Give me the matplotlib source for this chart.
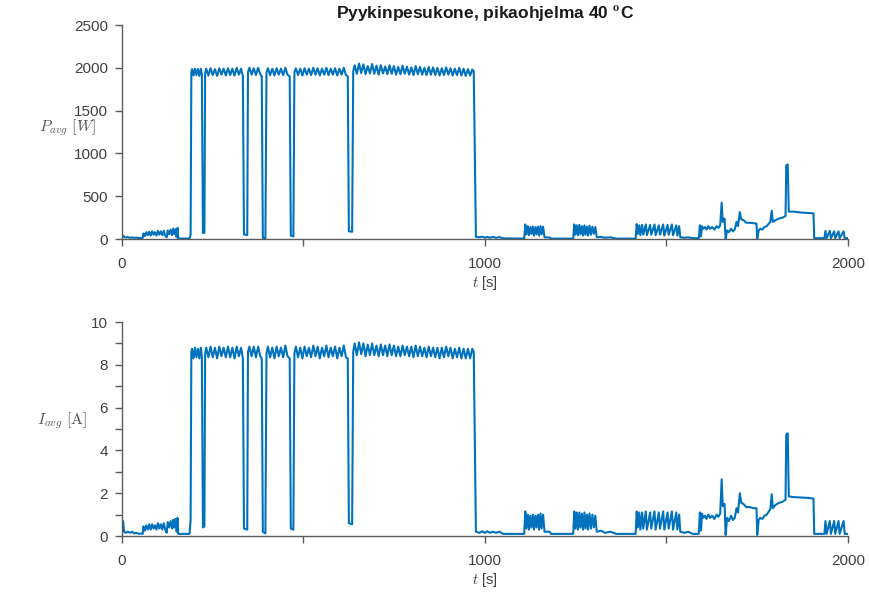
import matplotlib
matplotlib.use('Agg')
import matplotlib.pyplot as plt
from matplotlib.ticker import FixedLocator, MultipleLocator

plt.rcParams['font.family'] = ['Liberation Sans', 'DejaVu Sans']
plt.rcParams['mathtext.fontset'] = 'cm'

TITLE = r'Pyykinpesukone, pikaohjelma 40 $^{\mathbf{o}}$C'
LINE_COLOR = '#0072BD'

# Startup / filling, 0 - 190 s
t_start = [0, 3, 6, 10, 16, 22, 28, 34, 40, 46,
           52, 57, 59, 63, 67, 71, 75, 79, 83, 87,
           91, 95, 99, 103, 107, 111, 115, 119, 123, 126,
           130, 134, 138, 141, 144, 147, 150, 153, 155, 170,
           186, 189]
p_start = [20, 40, 25, 18, 22, 15, 18, 14, 16, 12,
           14, 12, 65, 35, 80, 45, 85, 40, 90, 50,
           80, 40, 95, 50, 90, 45, 95, 40, 20, 100,
           55, 110, 45, 120, 60, 115, 25, 130, 5, 5,
           5, 50]
i_start = [0.1, 0.7, 0.2, 0.15, 0.2, 0.15, 0.2, 0.12, 0.15, 0.1,
           0.12, 0.1, 0.45, 0.25, 0.5, 0.3, 0.55, 0.3, 0.55, 0.35,
           0.5, 0.3, 0.6, 0.35, 0.55, 0.3, 0.6, 0.3, 0.15, 0.65,
           0.4, 0.7, 0.35, 0.75, 0.4, 0.8, 0.2, 0.85, 0.1, 0.1,
           0.1, 0.75]

# Heating, 190 - 640 s
t_heat = [191, 193, 197, 201, 205, 209, 213, 217, 220,
          223, 227, 229,
          232, 238, 244, 250, 256, 262, 268, 274, 280, 286,
          292, 298, 304, 310, 316, 322, 328, 333,
          336, 345, 347,
          351, 357, 363, 369, 375, 381, 385,
          388, 395, 398,
          402, 408, 414, 420, 426, 432, 438, 444, 450, 456,
          462,
          465, 472, 475,
          479, 485, 491, 497, 503, 509, 515, 521, 527, 533,
          539, 545, 551, 557, 563, 569, 575, 581, 587, 593,
          599, 605, 611, 617, 622,
          625, 634, 637]
p_heat = [1950, 1985, 1910, 1990, 1915, 1985, 1905, 1990, 1930,
          70, 75, 1940,
          1990, 1910, 1995, 1915, 1985, 1905, 1995, 1920, 1990, 1910,
          1995, 1915, 1990, 1910, 2000, 1920, 1990, 1900,
          55, 45, 1950,
          2000, 1920, 1995, 1915, 2000, 1925, 1900,
          15, 5, 1940,
          1995, 1915, 1990, 1910, 1995, 1920, 1990, 1915, 2000, 1920,
          1900,
          40, 30, 1945,
          1995, 1915, 1990, 1910, 1995, 1920, 1990, 1915, 2000, 1920,
          1995, 1910, 1990, 1920, 2000, 1915, 1990, 1920, 1995, 1910,
          1990, 1920, 2000, 1915, 1900,
          90, 85, 1960]
i_heat = [8.6, 8.75, 8.3, 8.8, 8.35, 8.75, 8.3, 8.8, 8.4,
          0.4, 0.45, 8.5,
          8.8, 8.35, 8.85, 8.35, 8.8, 8.3, 8.85, 8.4, 8.8, 8.35,
          8.85, 8.35, 8.8, 8.3, 8.85, 8.4, 8.8, 8.3,
          0.35, 0.3, 8.6,
          8.85, 8.4, 8.85, 8.35, 8.85, 8.4, 8.3,
          0.2, 0.12, 8.5,
          8.85, 8.35, 8.8, 8.3, 8.85, 8.4, 8.8, 8.35, 8.9, 8.4,
          8.3,
          0.35, 0.3, 8.55,
          8.85, 8.35, 8.8, 8.3, 8.85, 8.4, 8.8, 8.35, 8.9, 8.4,
          8.85, 8.3, 8.8, 8.4, 8.9, 8.35, 8.8, 8.4, 8.85, 8.3,
          8.8, 8.4, 8.9, 8.35, 8.3,
          0.6, 0.55, 8.6]

# Long heating block, 640 - 975 s
t_long = [641, 647, 653, 659, 665, 671, 677, 683, 689, 695,
          701, 707, 713, 719, 725, 731, 737, 743, 749, 755,
          761, 767, 773, 779, 785, 791, 797, 803, 809, 815,
          821, 827, 833, 839, 845, 851, 857, 863, 869, 875,
          881, 887, 893, 899, 905, 911, 917, 923, 929, 935,
          941, 947, 953, 959, 965, 969, 975]
p_long = [2030, 1930, 2050, 1940, 2040, 1925, 2020, 1935, 2045, 1930,
          2025, 1920, 2030, 1935, 2015, 1925, 2030, 1930, 2020, 1920,
          2010, 1925, 2025, 1930, 2015, 1920, 2005, 1915, 2020, 1925,
          2010, 1920, 2000, 1915, 2010, 1920, 2005, 1915, 2000, 1910,
          1995, 1915, 2005, 1920, 1995, 1910, 1990, 1915, 2000, 1910,
          1990, 1905, 1985, 1910, 1980, 1960, 25]
i_long = [9.0, 8.45, 9.05, 8.5, 9.0, 8.4, 8.95, 8.45, 9.0, 8.45,
          8.9, 8.4, 8.95, 8.45, 8.9, 8.4, 8.95, 8.45, 8.9, 8.4,
          8.85, 8.4, 8.9, 8.45, 8.85, 8.4, 8.85, 8.35, 8.9, 8.4,
          8.85, 8.4, 8.8, 8.35, 8.85, 8.4, 8.8, 8.35, 8.8, 8.3,
          8.8, 8.35, 8.85, 8.4, 8.8, 8.3, 8.75, 8.35, 8.8, 8.3,
          8.75, 8.3, 8.75, 8.3, 8.75, 8.6, 0.2]

# Washing / rinsing bursts, 975 - 1590 s
t_rinse = [985, 992, 1000, 1006, 1014, 1022, 1030, 1040, 1050, 1108,
           1111, 1114, 1118, 1121, 1125, 1128, 1132, 1135, 1139, 1142,
           1146, 1149, 1153, 1156, 1160, 1164, 1178, 1182, 1243,
           1246, 1249, 1253, 1256, 1260, 1263, 1267, 1270, 1274, 1277,
           1281, 1284, 1288, 1292, 1296, 1300, 1304, 1308, 1320, 1330,
           1345, 1362, 1415,
           1418, 1421, 1425, 1428, 1433, 1436, 1443, 1446, 1455, 1458,
           1467, 1470, 1479, 1482, 1491, 1494, 1503, 1506, 1515, 1518,
           1527, 1530, 1535, 1538, 1550, 1560, 1572, 1589]
p_rinse = [20, 28, 15, 25, 15, 25, 15, 22, 8, 5,
           170, 55, 150, 45, 140, 60, 145, 40, 140, 55,
           145, 40, 150, 55, 145, 20, 18, 5, 5,
           170, 50, 160, 45, 165, 55, 150, 40, 160, 50,
           145, 40, 155, 50, 145, 60, 140, 20, 25, 15,
           20, 5, 5,
           175, 60, 160, 45, 165, 50, 170, 45, 165, 50,
           170, 45, 160, 50, 170, 40, 165, 50, 170, 45,
           160, 40, 150, 20, 15, 20, 10, 10]
i_rinse = [0.15, 0.22, 0.15, 0.22, 0.15, 0.2, 0.15, 0.2, 0.1, 0.1,
           1.15, 0.35, 1.0, 0.3, 0.95, 0.4, 1.0, 0.3, 0.95, 0.4,
           1.0, 0.3, 1.05, 0.35, 1.0, 0.2, 0.2, 0.1, 0.1,
           1.15, 0.35, 1.1, 0.3, 1.1, 0.4, 1.05, 0.3, 1.1, 0.35,
           1.0, 0.3, 1.05, 0.35, 1.0, 0.4, 0.95, 0.2, 0.25, 0.15,
           0.2, 0.1, 0.1,
           1.15, 0.4, 1.1, 0.3, 1.1, 0.35, 1.15, 0.3, 1.1, 0.35,
           1.15, 0.3, 1.1, 0.35, 1.15, 0.3, 1.1, 0.35, 1.15, 0.3,
           1.1, 0.3, 1.0, 0.2, 0.15, 0.2, 0.1, 0.1]

# Spinning, 1590 - 2000 s
t_spin = [1592, 1595, 1598, 1601, 1606, 1610, 1615, 1620, 1626, 1632,
          1638, 1643, 1648, 1652, 1655, 1660, 1663, 1667, 1672, 1678,
          1683, 1688, 1693, 1697, 1702, 1706, 1712, 1720, 1730, 1740,
          1748, 1750, 1754, 1758, 1764, 1770, 1776, 1786, 1790, 1793,
          1800, 1810, 1820, 1828, 1830, 1834, 1837, 1850, 1870, 1890,
          1905, 1907, 1935, 1938, 1941, 1950, 1953, 1962, 1965, 1974,
          1977, 1988, 1991, 2000]
p_spin = [160, 30, 150, 120, 140, 110, 150, 120, 140, 110,
          150, 130, 160, 425, 200, 240, 5, 100, 80, 120,
          90, 110, 200, 150, 315, 230, 220, 190, 190, 185,
          180, 5, 100, 120, 110, 140, 150, 200, 330, 200,
          220, 240, 250, 270, 860, 870, 320, 320, 310, 305,
          300, 10, 10, 95, 10, 95, 10, 90, 10, 90,
          10, 90, 10, 10]
i_spin = [1.1, 0.25, 1.05, 0.85, 0.95, 0.8, 1.0, 0.85, 0.95, 0.8,
          1.0, 0.9, 1.05, 2.65, 1.4, 1.5, 0.05, 0.85, 0.7, 0.95,
          0.75, 0.85, 1.3, 1.1, 2.0, 1.55, 1.5, 1.35, 1.35, 1.3,
          1.3, 0.05, 0.75, 0.85, 0.8, 0.95, 1.0, 1.25, 1.95, 1.3,
          1.45, 1.55, 1.6, 1.7, 4.75, 4.8, 1.85, 1.82, 1.8, 1.78,
          1.75, 0.1, 0.1, 0.7, 0.1, 0.7, 0.1, 0.7, 0.1, 0.7,
          0.1, 0.7, 0.1, 0.1]


def join(*parts):
    '''
    Joins the per-phase lists into one series.
    '''
    out = []
    for part in parts:
        out.extend(part)
    return out


def style_axis(ax):
    '''
    Gives an axis the plain left/bottom look of the reference.
    '''
    for side in ['top', 'right']:
        ax.spines[side].set_visible(False)
    for side in ['left', 'bottom']:
        ax.spines[side].set_color('#5a5a5a')
        ax.spines[side].set_linewidth(1.0)
    ax.tick_params(which='both', direction='out', length=5, width=1,
                   colors='#5a5a5a', labelcolor='#404040', labelsize=11)
    ax.tick_params(axis='x', which='both', pad=8)
    ax.tick_params(axis='y', which='both', pad=5)
    ax.set_xlim(0, 2000)
    ax.xaxis.set_major_locator(FixedLocator([0, 1000, 2000]))
    ax.xaxis.set_minor_locator(FixedLocator([500, 1500]))
    ax.set_xlabel('$t$ [s]', fontsize=10.5, color='#404040', labelpad=2)


def main():
    time = join(t_start, t_heat, t_long, t_rinse, t_spin)
    power = join(p_start, p_heat, p_long, p_rinse, p_spin)
    current = join(i_start, i_heat, i_long, i_rinse, i_spin)
    assert len(time) == len(power) == len(current)

    fig = plt.figure(figsize=(8.69, 5.94), dpi=100)
    ax1 = fig.add_axes([0.1404, 0.5976, 0.8354, 0.3603])
    ax2 = fig.add_axes([0.1404, 0.0976, 0.8354, 0.3603])

    ax1.plot(time, power, color=LINE_COLOR, lw=1.5)
    style_axis(ax1)
    ax1.set_ylim(0, 2500)
    ax1.yaxis.set_major_locator(MultipleLocator(500))
    ax1.set_ylabel(r'$P_{avg}\ [W]$', fontsize=11.5, color='#555555',
                   rotation=0, ha='center', va='center')
    ax1.yaxis.set_label_coords(-0.076, 0.52)
    ax1.set_title(TITLE, fontsize=12.5, fontweight='bold', color='#1a1a1a',
                  pad=4)

    ax2.plot(time, current, color=LINE_COLOR, lw=1.5)
    style_axis(ax2)
    ax2.set_ylim(0, 10)
    ax2.yaxis.set_major_locator(MultipleLocator(2))
    ax2.yaxis.set_minor_locator(MultipleLocator(1))
    ax2.set_ylabel(r'$I_{avg}\ [\mathrm{A}]$', fontsize=11.5, color='#555555',
                   rotation=0, ha='center', va='center')
    ax2.yaxis.set_label_coords(-0.083, 0.54)

    fig.savefig('out.png', dpi=100)


if __name__ == "__main__":
    main()
